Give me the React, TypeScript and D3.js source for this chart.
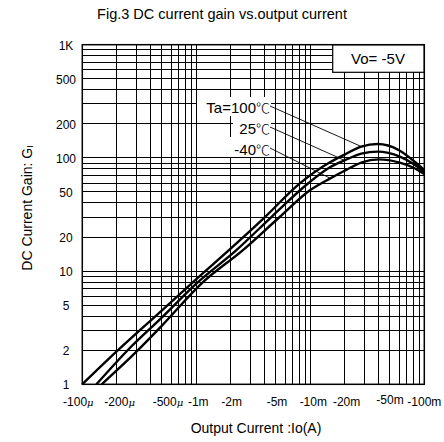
import React from 'react';
import * as d3 from 'd3';

// output current |Io| in mA, DC current gain GI
const ioTa100 = [0.1, 0.2, 0.5, 1, 2, 4, 8, 15, 20, 28, 39, 60, 83, 100];
const gainTa100 = [1, 1.95, 4.5, 8.5, 15.8, 30, 59, 92, 107, 126, 132.5, 117, 92, 78];

const ioTa25 = [0.133, 0.25, 0.5, 1, 2.26, 4.58, 9.6, 15, 20, 28, 39, 61, 83, 100];
const gainTa25 = [1, 2, 3.9, 7.75, 15.4, 30.2, 59.7, 83, 95, 109, 113.5, 102.5, 86.5, 75];

const ioTaM40 = [0.148, 0.3, 0.5, 1.115, 2.58, 5.42, 10, 15, 20, 28, 40, 61, 83, 100];
const gainTaM40 = [1, 1.95, 3.3, 7.8, 15.4, 30.2, 52, 66, 77, 91, 97, 90.7, 80.7, 72];

const seriesLabels = ['Ta=100', '25', '-40'];

const xTickValues = [0.1, 0.2, 0.5, 1, 2, 5, 10, 20, 50, 100];
const xTickLabels = ['-100', '-200', '-500', '-1m', '-2m', '-5m', '-10m', '-20m', '-50m', '-100m'];
const yTickValues = [1, 2, 5, 10, 20, 50, 100, 200, 500, 1000];
const yTickLabels = ['1', '2', '5', '10', '20', '50', '100', '200', '500', '1K'];

const W = 444;
const H = 442;
const left = 82.3, right = 424.3, top = 44.7, bottom = 384.3;
const font = 'Liberation Sans, Arial, sans-serif';

// small nudges so tick labels sit like the original
const xLabelDx = [-4, 3, 6, 2, 1, 1, 3, 2, 0, 0];
const xLabelDy = [0, 0, 0, 0, 0, 0, 0, 0, -2, 0];

const App = () => {
  const x = d3.scaleLog().domain([0.1, 100]).range([left, right]);
  const y = d3.scaleLog().domain([1, 1000]).range([bottom, top]);

  const series = [
    { io: ioTa100, gain: gainTa100 },
    { io: ioTa25, gain: gainTa25 },
    { io: ioTaM40, gain: gainTaM40 },
  ];
  const line = d3
    .line<[number, number]>()
    .x(d => x(d[0]))
    .y(d => y(d[1]))
    .curve(d3.curveMonotoneX);

  const xGrid = x.ticks();
  const yGrid = y.ticks();

  // leader lines end on the curve at these data indices
  const leaderIdx = [9, 8, 7];
  const labelRight = 270;

  return (
    <svg
      width={W}
      height={H}
      style={{ position: 'absolute', left: 0, top: 0, background: '#fff' }}
      fontFamily={font}
    >
      <text x={222} y={19} textAnchor="middle" fontSize={14.5}>
        Fig.3 DC current gain vs.output current
      </text>

      <g stroke="#000" strokeWidth={1} shapeRendering="crispEdges">
        {xGrid.map((t, i) => (
          <line key={'x' + i} x1={x(t)} x2={x(t)} y1={top} y2={bottom} />
        ))}
        {yGrid.map((t, i) => (
          <line key={'y' + i} x1={left} x2={right} y1={y(t)} y2={y(t)} />
        ))}
      </g>

      {/* label backgrounds */}
      <rect x={197} y={97} width={74} height={19} fill="#fff" />
      <rect x={233} y={116} width={38} height={21} fill="#fff" />
      <rect x={229} y={137} width={42} height={20} fill="#fff" />

      {/* Vo box */}
      <rect x={332.7} y={top} width={right - 332.7} height={27.6} fill="#fff" stroke="#000" strokeWidth={1.2} />
      <text x={378} y={58} textAnchor="middle" dominantBaseline="central" fontSize={15}>
        Vo= -5V
      </text>

      {series.map((s, i) => {
        const pts = s.io.map((v, j) => [v, s.gain[j]] as [number, number]);
        const p = pts[leaderIdx[i]];
        const ly = 107 + i * 21;
        return (
          <g key={'s' + i}>
            <line x1={labelRight} y1={ly - 1} x2={x(p[0])} y2={y(p[1])} stroke="#000" strokeWidth={0.9} />
            <path d={line(pts) || ''} fill="none" stroke="#000" strokeWidth={2.4} />
            <text x={labelRight} y={ly} textAnchor="end" dominantBaseline="central" fontSize={15}>
              {seriesLabels[i]}
              <tspan fontFamily="Noto Sans CJK SC" fontSize={14} fontWeight={300}>
                ℃
              </tspan>
            </text>
          </g>
        );
      })}

      <rect x={left} y={top} width={right - left} height={bottom - top} fill="none" stroke="#000" strokeWidth={1.5} />

      {yTickValues.map((t, i) => (
        <text key={'yl' + i} x={66} y={y(t) + 1} textAnchor="middle" dominantBaseline="central" fontSize={12}>
          {yTickLabels[i]}
        </text>
      ))}
      {xTickValues.map((t, i) => (
        <text
          key={'xl' + i}
          x={x(t) + xLabelDx[i]}
          y={402 + xLabelDy[i]}
          textAnchor="middle"
          dominantBaseline="central"
          fontSize={12}
        >
          {xTickLabels[i]}
          {t < 1 ? (
            <tspan fontFamily="DejaVu Serif" fontSize={10} fontStyle="italic">
              μ
            </tspan>
          ) : null}
        </text>
      ))}

      <text x={256} y={428} textAnchor="middle" dominantBaseline="central" fontSize={14}>
        Output Current :Io(A)
      </text>
      <text
        transform="translate(27,208) rotate(-90)"
        textAnchor="middle"
        dominantBaseline="central"
        fontSize={14}
      >
        DC Current Gain: G<tspan fontSize={9} dy={3}>I</tspan>
      </text>
    </svg>
  );
};

export default App;
